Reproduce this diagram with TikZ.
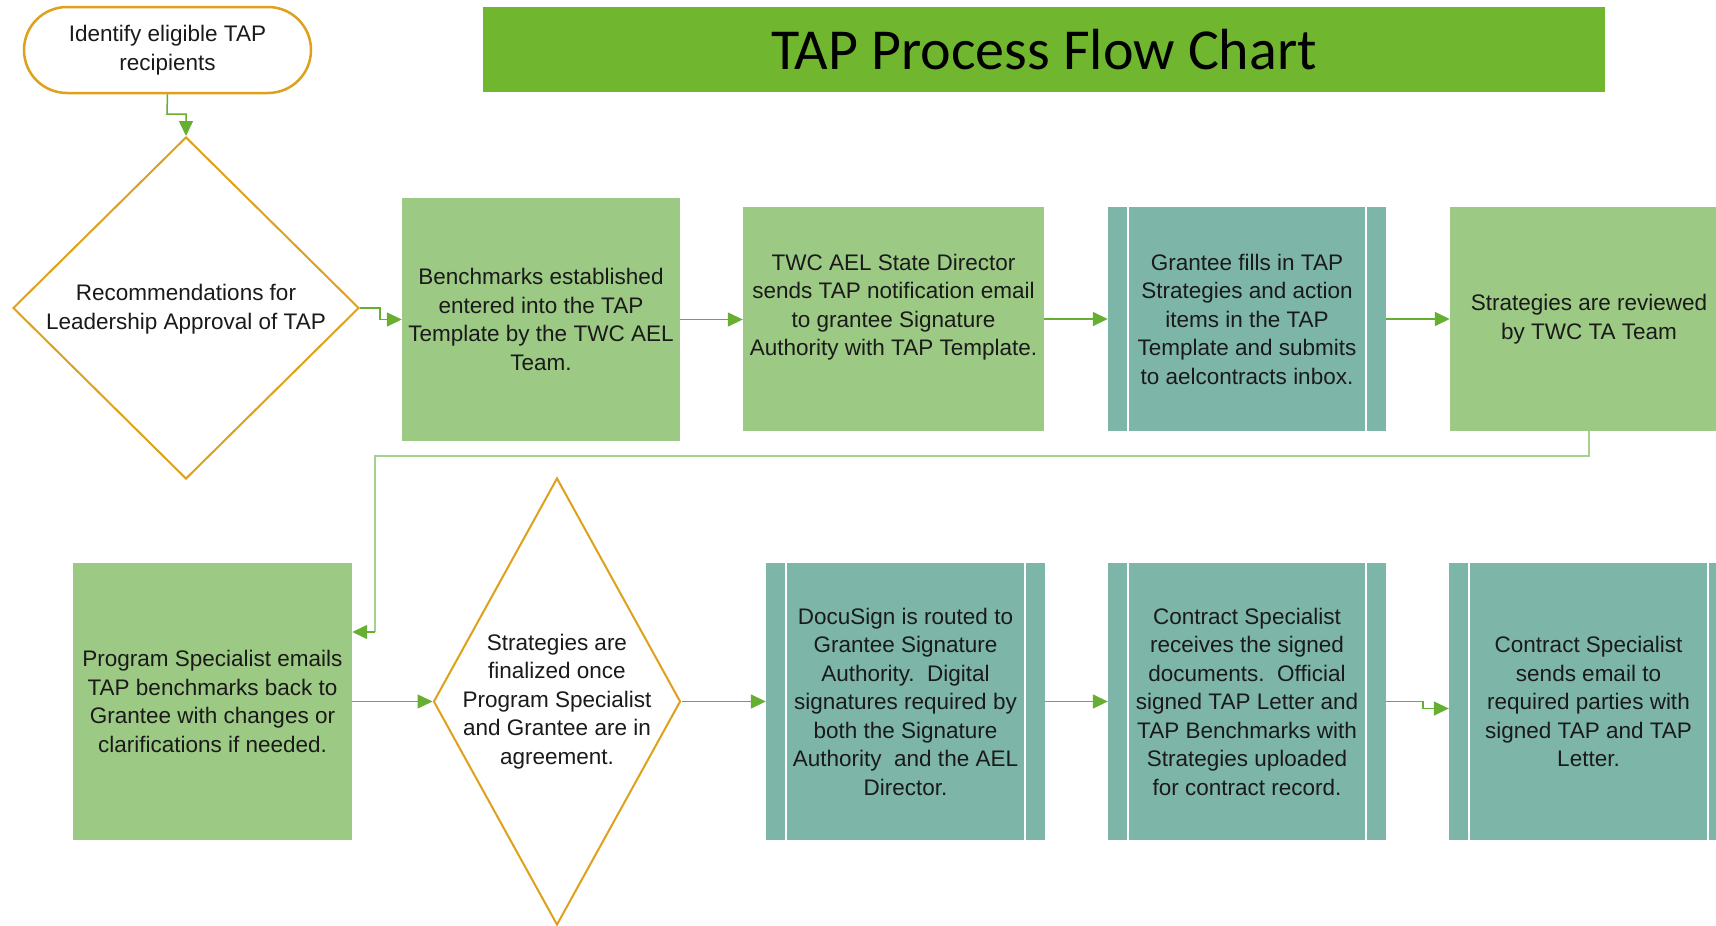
\documentclass[tikz,border=0pt]{standalone}
\usepackage{fontspec}
\setmainfont{Liberation Sans}
\newfontfamily\titlefont{Carlito}
\usetikzlibrary{shapes.geometric,arrows.meta,calc}
\definecolor{titlegreen}{HTML}{71B62F}
\definecolor{boxgreen}{HTML}{9CC983}
\definecolor{boxteal}{HTML}{7DB6A9}
\definecolor{gold}{HTML}{DFA11C}
\definecolor{arrgreen}{HTML}{67AF33}
\definecolor{loopgreen}{HTML}{A8D08D}
\definecolor{txt}{HTML}{1A1A1A}
\tikzset{
  body/.style={font=\fontsize{22.5}{28.5}\selectfont, text=txt, align=center},
  gbox/.style={body, rectangle, fill=boxgreen, inner sep=0pt},
  tbox/.style={body, rectangle, fill=boxteal, inner sep=0pt},
  decision/.style={diamond, draw=gold, line width=2pt, fill=white, inner sep=0pt},
  terminal/.style={body, rectangle, rounded corners=43pt, draw=gold, line width=2.5pt, fill=white,
    minimum width=287pt, minimum height=86pt},
  conn/.style={draw=arrgreen, line width=1.5pt, -{Triangle[length=15pt,width=14pt]}},
  loopline/.style={draw=loopgreen, line width=1.5pt},
  bar/.style={draw=white, line width=1.5pt},
}
\newcommand{\procbars}[1]{%
  \draw[bar] ([xshift=20pt]#1.north west) -- ([xshift=20pt]#1.south west);
  \draw[bar] ([xshift=-20pt]#1.north east) -- ([xshift=-20pt]#1.south east);}
\begin{document}
\begin{tikzpicture}[x=1pt,y=-1pt]
\clip (0,0) rectangle (1716,926);
\fill[white] (0,0) rectangle (1716,926);

% title
\node[rectangle, fill=titlegreen, minimum width=1122pt, minimum height=85pt, inner sep=0pt,
  font=\titlefont\fontsize{58}{60}\selectfont, text=black] (title) at (1044,49.5) {TAP Process Flow Chart};

% top row
\node[terminal] (t) at (167.5,50) {Identify eligible TAP\\recipients};
\node[decision, minimum width=346pt, minimum height=342pt] (d1) at (186,308) {};
\node[body] at (186,309) {Recommendations for\\Leadership Approval of TAP};

\node[gbox, minimum width=278pt, minimum height=243pt] (b1) at (541,319.5)
  {Benchmarks established\\entered into the TAP\\Template by the TWC AEL\\Team.};
\node[gbox, minimum width=301pt, minimum height=224pt] (b2) at (893.5,319)
  {TWC AEL State Director\\sends TAP notification email\\to grantee Signature\\Authority with TAP Template.\\~};
\node[tbox, minimum width=278pt, minimum height=224pt] (b3) at (1247,319)
  {Grantee fills in TAP\\Strategies and action\\items in the TAP\\Template and submits\\to aelcontracts inbox.};
\procbars{b3}
\node[gbox, minimum width=278pt, minimum height=224pt] (b4) at (1589,319)
  {Strategies are reviewed\\by TWC TA Team};

% bottom row
\node[gbox, minimum width=279pt, minimum height=277pt] (b5) at (212.5,701.5)
  {Program Specialist emails\\TAP benchmarks back to\\Grantee with changes or\\clarifications if needed.};
\node[decision, minimum width=247pt, minimum height=447pt] (d2) at (557,701.5) {};
\node[body] at (557,701.5) {Strategies are\\finalized once\\Program Specialist\\and Grantee are in\\agreement.};
\node[tbox, minimum width=279pt, minimum height=277pt] (b6) at (905.5,701.5)
  {DocuSign is routed to\\Grantee Signature\\Authority.\ \ Digital\\signatures required by\\both the Signature\\Authority\ \ and the AEL\\Director.};
\procbars{b6}
\node[tbox, minimum width=278pt, minimum height=277pt] (b7) at (1247,701.5)
  {Contract Specialist\\receives the signed\\documents.\ \ Official\\signed TAP Letter and\\TAP Benchmarks with\\Strategies uploaded\\for contract record.};
\procbars{b7}
\node[tbox, minimum width=279pt, minimum height=277pt] (b8) at (1588.5,701.5)
  {Contract Specialist\\sends email to\\required parties with\\signed TAP and TAP\\Letter.};
\procbars{b8}

% connectors
\coordinate (c1) at (167,114);
\draw[conn] (t.south) -- (c1) -| (d1.north);
\coordinate (c2) at (380,308);
\draw[conn] (d1.east) -- (c2) |- (b1.west);
\draw[conn] (b1.east) -- (b1.east -| b2.west);
\draw[conn] (b2.east) -- (b2.east -| b3.west);
\draw[conn] (b3.east) -- (b3.east -| b4.west);

\coordinate (lp1) at (375,456);
\coordinate (lp2) at (375,632);
\draw[loopline] (b4.south) |- (lp1) -- (lp2);
\draw[conn] (lp2) -- (lp2 -| b5.east);

\draw[conn] (b5.east) -- (d2.west);
\draw[conn] (d2.east) -- (d2.east -| b6.west);
\draw[conn] (b6.east) -- (b6.east -| b7.west);
\coordinate (c3) at (1423,701.5);
\coordinate (c4) at ($(b8.west)+(0,7)$);
\draw[conn] (b7.east) -- (c3) |- (c4);
\end{tikzpicture}
\end{document}
